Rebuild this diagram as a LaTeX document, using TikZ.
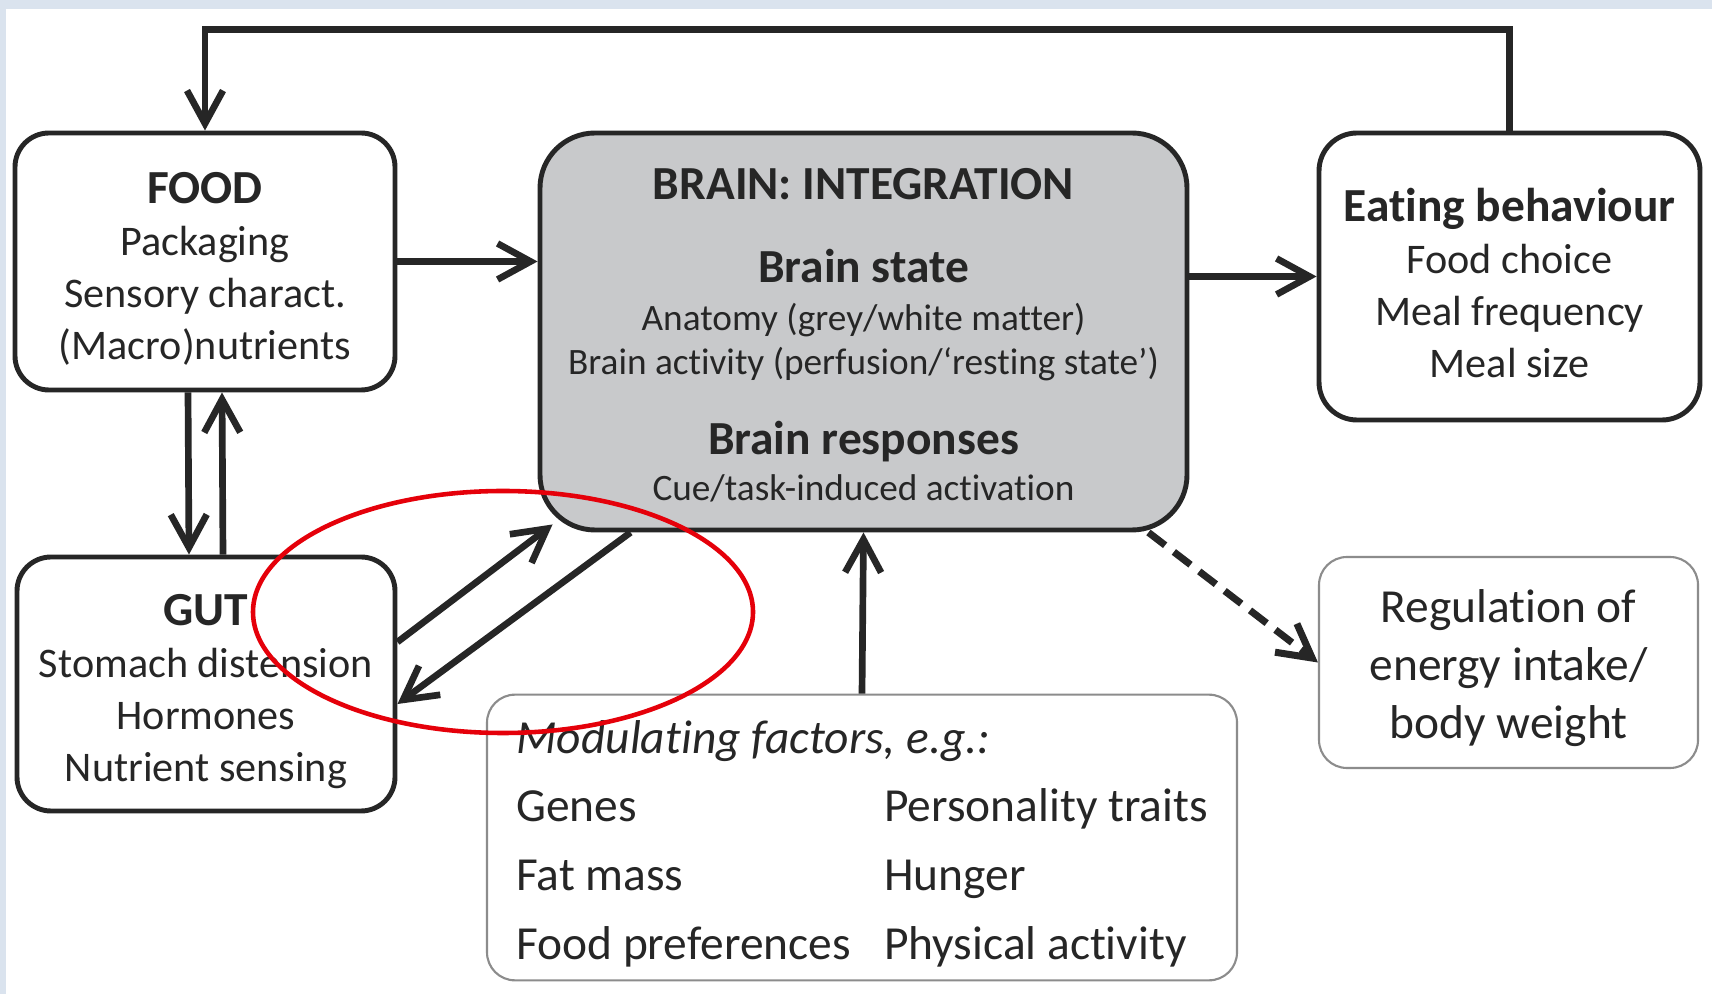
\documentclass[tikz,border=0pt]{standalone}
\usepackage{fontspec}
\setmainfont{Carlito}[Ligatures={TeX,NoCommon}]
\usetikzlibrary{arrows.meta, positioning}
\definecolor{brainfill}{HTML}{C8C9CB}
\definecolor{linegrey}{HTML}{8C8C8C}
\definecolor{bgblue}{HTML}{DAE3EE}
\definecolor{inkdark}{HTML}{262626}
\definecolor{ringred}{HTML}{E5000A}
\newcommand{\boxhead}[2][12.8pt]{{\fontsize{13.5}{14.8}\selectfont\bfseries\rule{0pt}{#1}#2}}

\begin{document}
\begin{tikzpicture}[
    box/.style={draw=inkdark, line width=1.4pt, rounded corners=3.4mm, align=center,
        text=inkdark, inner sep=0pt, font=\fontsize{12}{14.8}\selectfont},
    thinbox/.style={draw=linegrey, line width=0.6pt, rounded corners=2.8mm, align=center,
        text=inkdark, inner sep=0pt},
    arr/.style={draw=inkdark, line width=1.9pt, -{Straight Barb[length=3.3mm,width=3.6mm]}}
]
\useasboundingbox (0,0) rectangle (17.12,-9.94);
\fill[bgblue] (0,0) rectangle (17.12,-9.94);
\fill[white] (0.06,-0.09) rectangle (17.12,-9.94);

\node (food) [box, minimum width=3.8cm, minimum height=2.57cm] at (2.05,-2.615) {
    \boxhead{FOOD}\\
    Packaging\\
    Sensory charact.\\
    (Macro)nutrients
};
\node (brain) [box, fill=brainfill, rounded corners=5.5mm, minimum width=6.47cm,
    minimum height=3.97cm, font=\fontsize{10.6}{12.5}\selectfont] at (8.635,-3.315) {
    \boxhead[11.2pt]{BRAIN: INTEGRATION}\\[11pt]
    \boxhead[0pt]{Brain state}\\[1.2pt]
    Anatomy (grey/white matter)\\
    Brain activity (perfusion/‘resting state’)\\[10.4pt]
    \boxhead[0pt]{Brain responses}\\[0.6pt]
    Cue/task-induced activation
};
\node (eat) [box, rounded corners=3.8mm, minimum width=3.81cm, minimum height=2.87cm] at (15.095,-2.765) {
    \boxhead[13.1pt]{Eating behaviour}\\
    Food choice\\
    Meal frequency\\
    Meal size
};
\node (gut) [box, minimum width=3.78cm, minimum height=2.54cm] at (2.06,-6.84) {
    \boxhead[13.4pt]{GUT}\\
    Stomach distension\\
    Hormones\\
    Nutrient sensing
};
\node (mod) [thinbox, minimum width=7.5cm, minimum height=2.85cm,
    font=\fontsize{13.5}{19.6}\selectfont] at (8.62,-8.375) {
    \begin{tabular}{@{\hspace{3.1pt}}p{3.68cm}@{}l@{}}
    \multicolumn{2}{@{\hspace{3.1pt}}l@{}}{\rule{0pt}{16.6pt}\textit{Modulating factors, e.g.:}}\\
    Genes & Personality traits\\
    Fat mass & Hunger\\
    Food preferences & Physical activity
    \end{tabular}
};
\node (reg) [thinbox, minimum width=3.79cm, minimum height=2.11cm,
    font=\fontsize{13.5}{16.5}\selectfont] at (15.085,-6.625) {
    \rule{0pt}{12.3pt}Regulation of\\
    energy intake/\\
    body weight
};

\coordinate (top) at (8,-0.295);
\draw[arr] (eat.north) |- (top) -| (food.north);
\draw[arr] (food.east) -- (food.east -| brain.west);
\draw[arr] (brain.east |- eat.west) -- (eat.west);
\draw[arr] ([xshift=-1.7mm]food.south) -- ([xshift=-1.7mm]gut.north);
\draw[arr] ([xshift=1.7mm]gut.north) -- ([xshift=1.7mm]food.south);
\draw[arr] ([yshift=4.2mm]gut.east) -- ([xshift=1.5mm,yshift=0.8mm]brain.south west);
\draw[arr] ([xshift=9.3mm]brain.south west) -- ([yshift=-2mm]gut.east);
\draw[arr] (mod.north) -- (brain.south);
\draw[arr, line width=2pt, dash pattern=on 2.1mm off 1.1mm] ([xshift=-4.1mm]brain.south east) -- (reg.west);

\draw[ringred, line width=1.3pt] (5.03,-6.12) ellipse [x radius=2.5cm, y radius=1.21cm];
\end{tikzpicture}
\end{document}
